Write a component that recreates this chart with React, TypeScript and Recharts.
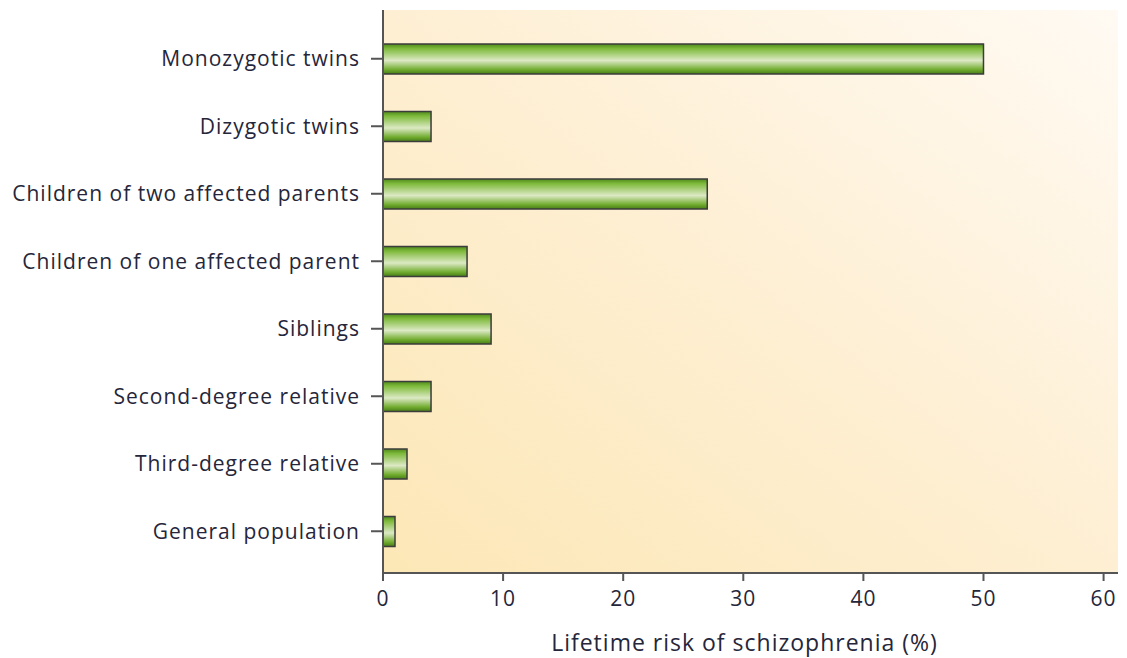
import { Bar, BarChart, CartesianGrid, XAxis, YAxis } from 'recharts';

const CATEGORIES = [
  'Monozygotic twins',
  'Dizygotic twins',
  'Children of two affected parents',
  'Children of one affected parent',
  'Siblings',
  'Second-degree relative',
  'Third-degree relative',
  'General population',
];
const RISK = [50, 4, 27, 7, 9, 4, 2, 1];
const X_TICKS = [0, 10, 20, 30, 40, 50, 60];

const TEXT = '#26263a';
const AXIS = '#555555';
const FONT = '"Open Sans", Lato, sans-serif';

const data = CATEGORIES.map((name, i) => ({ name, risk: RISK[i] }));

export default function App() {
  return (
    <div style={{ position: 'absolute', left: 0, top: 0, width: 1127, height: 658, background: '#fff' }}>
      <BarChart
        width={1127}
        height={658}
        data={data}
        layout="vertical"
        barSize={30}
        margin={{ top: 10, right: 9, bottom: 0, left: 0 }}
        style={{ fontFamily: FONT }}
      >
        <defs>
          <linearGradient id="panel" x1="0" y1="1" x2="1" y2="0">
            <stop offset="0%" stopColor="#fce7b6" />
            <stop offset="55%" stopColor="#fef0d6" />
            <stop offset="100%" stopColor="#fffaf3" />
          </linearGradient>
          <linearGradient id="barFill" x1="0" y1="0" x2="0" y2="1">
            <stop offset="0%" stopColor="#4f8a1c" />
            <stop offset="15%" stopColor="#7db93a" />
            <stop offset="55%" stopColor="#dce9c4" />
            <stop offset="85%" stopColor="#72ad30" />
            <stop offset="100%" stopColor="#467d16" />
          </linearGradient>
        </defs>
        <CartesianGrid fill="url(#panel)" horizontal={false} vertical={false} />
        <XAxis
          type="number"
          domain={[0, 61.2]}
          ticks={X_TICKS}
          allowDataOverflow
          height={85}
          stroke={AXIS}
          strokeWidth={2}
          tickSize={8}
          tickMargin={10}
          tick={{ fill: TEXT, fontSize: 21, letterSpacing: 1 }}
          label={{
            value: 'Lifetime risk of schizophrenia (%)',
            position: 'insideBottom',
            offset: 7,
            dx: -6,
            fill: TEXT,
            fontSize: 23,
            letterSpacing: 1,
          }}
        />
        <YAxis
          type="category"
          dataKey="name"
          width={383}
          stroke={AXIS}
          strokeWidth={2}
          tickSize={12}
          tickMargin={11}
          padding={{ top: 15, bottom: 8 }}
          tick={{ fill: TEXT, fontSize: 21, letterSpacing: 1 }}
          interval={0}
        />
        <Bar
          dataKey="risk"
          fill="url(#barFill)"
          stroke="#3c3c3c"
          strokeWidth={1.5}
          isAnimationActive={false}
        />
      </BarChart>
    </div>
  );
}
